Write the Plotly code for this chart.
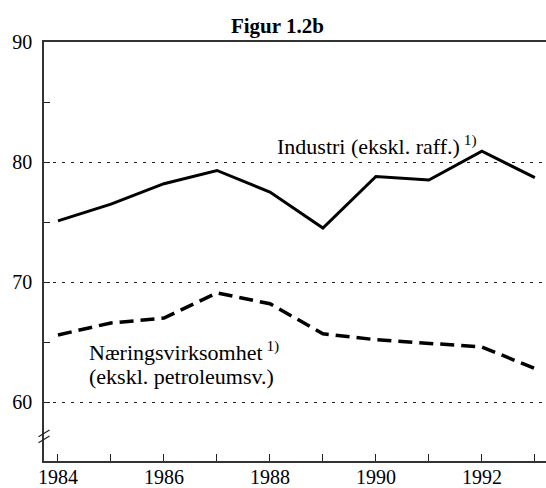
import plotly.graph_objects as go

years = [1984, 1985, 1986, 1987, 1988, 1989, 1990, 1991, 1992, 1993]
industri = [75.1, 76.5, 78.2, 79.3, 77.5, 74.5, 78.8, 78.5, 80.9, 78.7]
naering = [65.6, 66.6, 67.0, 69.1, 68.2, 65.7, 65.2, 64.9, 64.6, 62.8]
label_years = [1984, 1986, 1988, 1990, 1992]
other_years = [1985, 1987, 1989, 1991, 1993]

serif = "Liberation Serif, Times New Roman, serif"

fig = go.Figure()
fig.add_trace(go.Scatter(x=years, y=industri, mode='lines',
                         line=dict(color='black', width=3)))
fig.add_trace(go.Scatter(x=years, y=naering, mode='lines',
                         line=dict(color='black', width=3.5, dash='14px,7px')))

fig.update_layout(
    width=546, height=488,
    margin=dict(l=44, r=0, t=42, b=27),
    paper_bgcolor='white', plot_bgcolor='white',
    showlegend=False,
    font=dict(family=serif, size=20, color='black'),
    title={'text': "<b>Figur 1.2b</b>", 'font': {'size': 21, 'family': serif},
           'x': 0.508, 'xanchor': 'center', 'y': 0.948, 'yanchor': 'middle'},
)

fig.update_xaxes(
    range=[1983.736, 1993.21],
    tickvals=label_years,
    ticks='inside', ticklen=7, tickcolor='#222', tickwidth=1,
    minor=dict(tickvals=other_years, ticks='inside', ticklen=7, tickcolor='#222', showgrid=False),
    showline=True, linecolor='#333', linewidth=1.5, mirror=True,
    showgrid=False, zeroline=False, automargin=False,
    ticklabelstandoff=-3,
)
fig.update_yaxes(
    range=[55.1, 90],
    tickvals=[60, 70, 80, 90],
    ticks='inside', ticklen=6, tickcolor='#222',
    showline=True, linecolor='#333', linewidth=1.5,
    showgrid=True, gridcolor='#222', gridwidth=1, griddash='3px,6px',
    minor=dict(tickvals=[65, 75, 85], ticks='inside', ticklen=6, tickcolor='#222', showgrid=False),
    zeroline=False, automargin=False,
    ticklabelstandoff=6,
)

# axis break marks
for yc in [3, -3]:
    fig.add_shape(type='line', xref='paper', yref='y',
                  xsizemode='pixel', ysizemode='pixel', xanchor=0, yanchor=57.15,
                  x0=-5.5, x1=5.5, y0=yc - 3.3, y1=yc + 3.3,
                  line=dict(color='#222', width=1.2))

lab_font = dict(size=22)
fig.add_annotation(x=1988.1, y=81.4, xref='x', yref='y', xanchor='left', yanchor='middle',
                   text="Industri (ekskl. raff.)<sup> 1)</sup>", showarrow=False, font=lab_font)
fig.add_annotation(x=1984.55, y=64.25, xref='x', yref='y', xanchor='left', yanchor='middle',
                   text="Næringsvirksomhet<sup> 1)</sup>", showarrow=False, font=lab_font)
fig.add_annotation(x=1984.55, y=62.15, xref='x', yref='y', xanchor='left', yanchor='middle',
                   text="(ekskl. petroleumsv.)", showarrow=False, font=lab_font)

# page body has a default 8px margin, drop it so the figure fills the window
fig.write_html("out.html", config={'displayModeBar': False},
               post_script="document.body.style.margin='0';")
